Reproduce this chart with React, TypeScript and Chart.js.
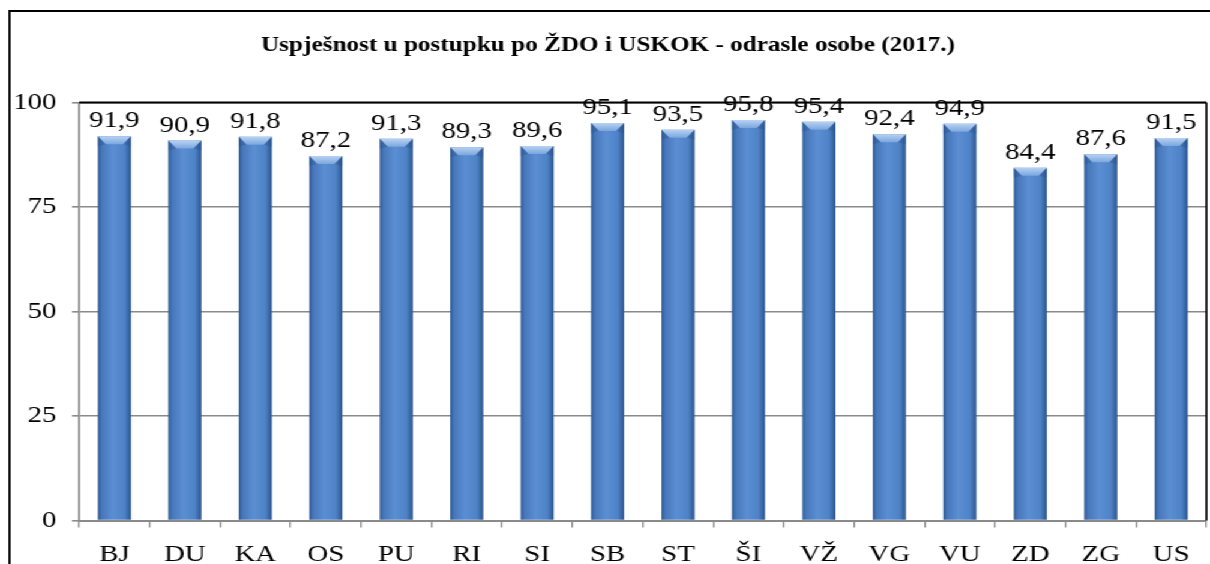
import React, { useEffect, useRef } from 'react';
import { Chart, registerables } from 'chart.js';

Chart.register(...registerables);

const categories = ['BJ', 'DU', 'KA', 'OS', 'PU', 'RI', 'SI', 'SB', 'ST', 'ŠI', 'VŽ', 'VG', 'VU', 'ZD', 'ZG', 'US'];
const values = [91.9, 90.9, 91.8, 87.2, 91.3, 89.3, 89.6, 95.1, 93.5, 95.8, 95.4, 92.4, 94.9, 84.4, 87.6, 91.5];
const yMin = 0;
const yMax = 100;
const yStep = 25;
const titleText = 'Uspješnost u postupku po ŽDO i USKOK - odrasle osobe (2017.)';

const CANVAS_W = 1008;
const CANVAS_H = 564;
const STRETCH = 1210 / CANVAS_W;
const BAR_FRAC = 0.47;
const SERIF = "'Liberation Serif', 'Times New Roman', serif";
const GRID = '#8a8a8a';
const TICK_SIZE = 24;

const fmt = (v: number) => v.toFixed(1).replace('.', ',');

const decorPlugin = {
  id: 'decor',
  afterDatasetsDraw(chart: any) {
    const ctx = chart.ctx;
    const meta = chart.getDatasetMeta(0);
    meta.data.forEach((el: any, i: number) => {
      const { x, y, width } = el.getProps(['x', 'y', 'width'], true);
      const l = x - width / 2;
      const r = x + width / 2;
      const b = 8;
      const inset = width * 0.24;
      ctx.save();
      const g = ctx.createLinearGradient(0, y, 0, y + b);
      g.addColorStop(0, '#b8d2f3');
      g.addColorStop(1, '#7aa6de');
      ctx.fillStyle = g;
      ctx.beginPath();
      ctx.moveTo(l, y);
      ctx.lineTo(r, y);
      ctx.lineTo(r - inset, y + b);
      ctx.lineTo(l + inset, y + b);
      ctx.closePath();
      ctx.fill();
      ctx.fillStyle = 'rgba(40,80,140,0.35)';
      ctx.beginPath();
      ctx.moveTo(l, y);
      ctx.lineTo(l + inset, y + b);
      ctx.lineTo(l, y + b + 2);
      ctx.closePath();
      ctx.fill();
      ctx.beginPath();
      ctx.moveTo(r, y);
      ctx.lineTo(r - inset, y + b);
      ctx.lineTo(r, y + b + 2);
      ctx.closePath();
      ctx.fill();
      ctx.restore();

      ctx.save();
      ctx.font = `${TICK_SIZE}px ${SERIF}`;
      ctx.fillStyle = '#000';
      ctx.textAlign = 'center';
      ctx.textBaseline = 'alphabetic';
      ctx.fillText(fmt(values[i]), x, y - 9);
      ctx.restore();
    });
  },
  afterDraw(chart: any) {
    const ctx = chart.ctx;
    const { top, right, left, bottom } = chart.chartArea;
    ctx.save();
    ctx.strokeStyle = '#000';
    ctx.lineWidth = 1.8;
    ctx.beginPath();
    ctx.moveTo(7.9, CANVAS_H + 5);
    ctx.lineTo(7.9, 11);
    ctx.lineTo(CANVAS_W + 5, 11);
    ctx.stroke();
    ctx.lineWidth = 2;
    ctx.beginPath();
    ctx.moveTo(left, top);
    ctx.lineTo(right, top);
    ctx.stroke();
    ctx.lineWidth = 1.7;
    ctx.beginPath();
    ctx.moveTo(right, top);
    ctx.lineTo(right, bottom);
    ctx.stroke();
    ctx.restore();
  },
};

export default function App() {
  const canvasRef = useRef<HTMLCanvasElement | null>(null);

  useEffect(() => {
    const canvas = canvasRef.current;
    if (!canvas) return;
    const chart = new Chart(canvas, {
      type: 'bar',
      data: {
        labels: categories,
        datasets: [
          {
            data: values,
            barPercentage: BAR_FRAC,
            categoryPercentage: 1,
            borderWidth: 0,
            backgroundColor: (c: any) => {
              const ch = c.chart;
              const xs = ch.scales && ch.scales.x;
              if (!xs || !xs.width || c.type !== 'data') return '#4f81bd';
              const cx = xs.getPixelForValue(c.dataIndex);
              const w = (xs.width / categories.length) * BAR_FRAC;
              const g = ch.ctx.createLinearGradient(cx - w / 2, 0, cx + w / 2, 0);
              g.addColorStop(0, '#2e5a94');
              g.addColorStop(0.12, '#4878bb');
              g.addColorStop(0.45, '#5b8ed3');
              g.addColorStop(0.8, '#4f83c8');
              g.addColorStop(1, '#2b558d');
              return g;
            },
          },
        ],
      },
      options: {
        responsive: false,
        animation: false,
        devicePixelRatio: 1,
        layout: { padding: { left: 8, right: 3, top: 0, bottom: 0 } },
        plugins: {
          legend: { display: false },
          tooltip: { enabled: false },
          title: {
            display: true,
            text: titleText,
            color: '#000',
            font: { family: SERIF, size: 21, weight: 'bold', lineHeight: 1.2 },
            padding: { top: 32.5, bottom: 44.8 },
          },
        },
        scales: {
          x: {
            offset: true,
            grid: {
              offset: true,
              drawOnChartArea: false,
              drawTicks: true,
              tickLength: 7,
              color: GRID,
              lineWidth: 1.3,
            },
            border: { display: true, color: GRID, width: 2 },
            ticks: {
              color: '#000',
              font: { family: SERIF, size: TICK_SIZE },
              padding: 12.5,
              maxRotation: 0,
              autoSkip: false,
            },
            afterFit: (s: any) => {
              s.height = 43.5;
            },
          },
          y: {
            min: yMin,
            max: yMax,
            grid: {
              color: GRID,
              lineWidth: 1.6,
              drawTicks: true,
              tickLength: 6,
            },
            border: { display: true, color: GRID, width: 1.7 },
            ticks: {
              stepSize: yStep,
              color: '#000',
              font: { family: SERIF, size: TICK_SIZE },
              padding: 13,
            },
            afterFit: (s: any) => {
              s.width = 58;
            },
          },
        },
      },
      plugins: [decorPlugin],
    } as any);
    return () => chart.destroy();
  }, []);

  return (
    <div
      style={{
        position: 'fixed',
        left: 0,
        top: 0,
        width: CANVAS_W,
        height: CANVAS_H,
        transform: `scaleX(${STRETCH})`,
        transformOrigin: '0 0',
        background: '#fff',
      }}
    >
      <canvas ref={canvasRef} width={CANVAS_W} height={CANVAS_H} style={{ display: 'block' }} />
    </div>
  );
}
